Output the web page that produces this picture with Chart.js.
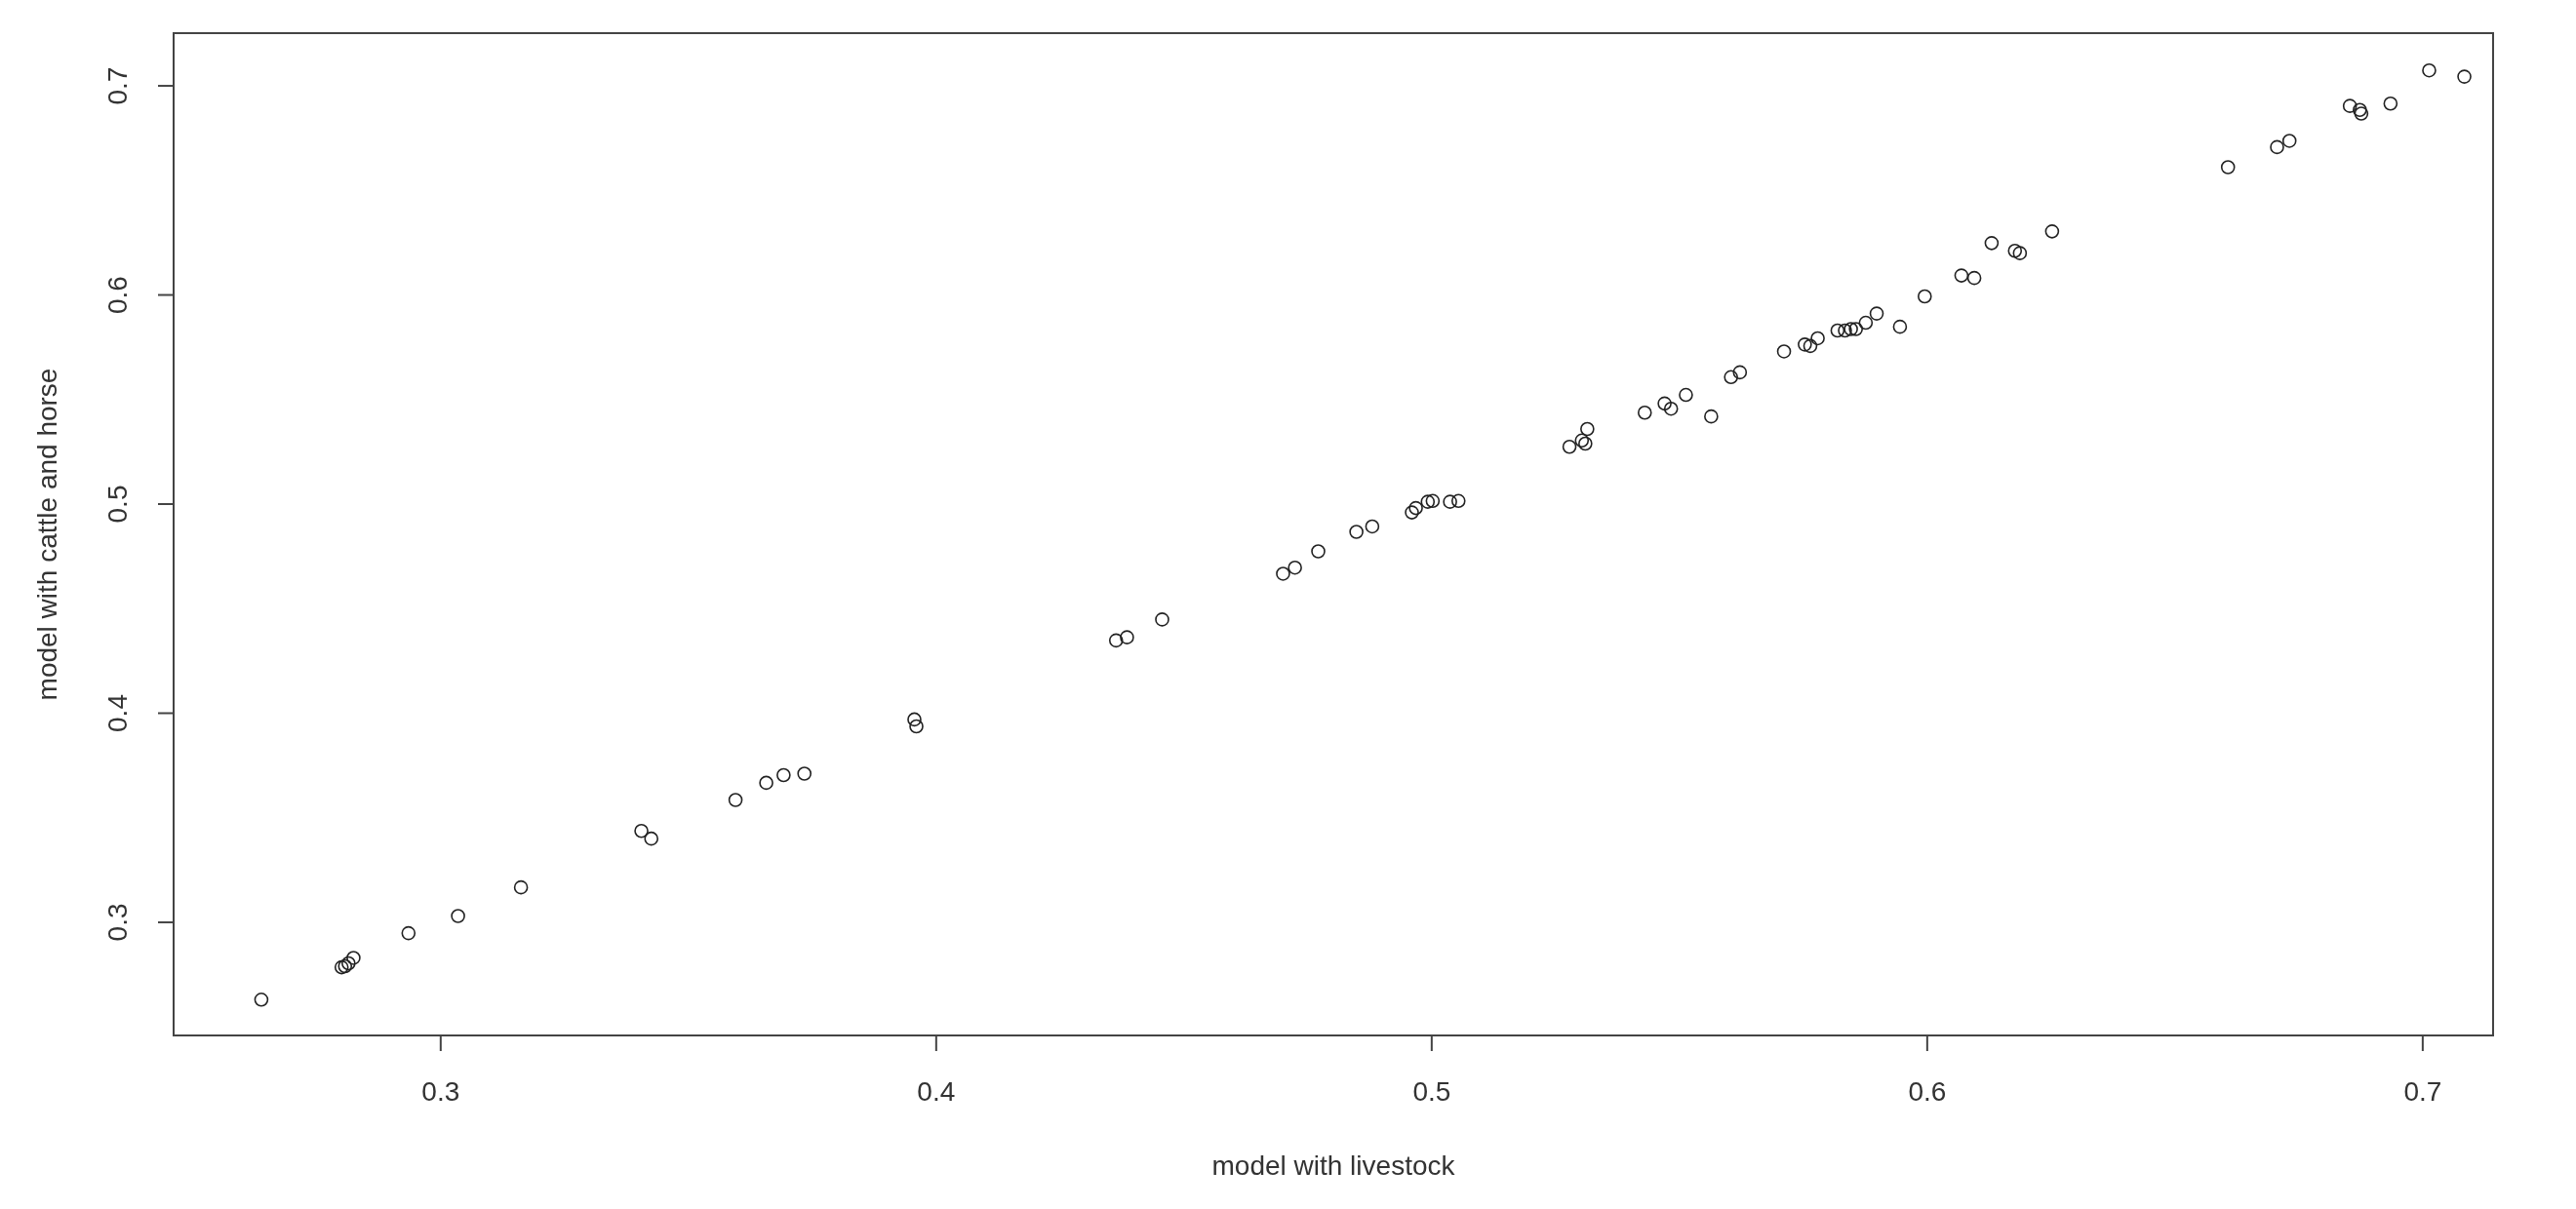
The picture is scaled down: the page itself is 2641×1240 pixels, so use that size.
<!DOCTYPE html>
<html>
<head>
<meta charset="utf-8">
<script src="https://cdn.jsdelivr.net/npm/chart.js@4.4.0/dist/chart.umd.min.js"></script>
<style>
  html, body { margin: 0; padding: 0; background: #fff; }
  #wrap { width: 2641px; height: 1240px; }
</style>
</head>
<body>
<div id="wrap"><canvas id="myChart"></canvas></div>
<script>
// model with livestock (x) vs model with cattle and horse (y)
const livestock = [
    0.2638, 0.2800, 0.2807, 0.2814, 0.2824, 0.2935, 0.3035, 0.3162, 0.3405, 0.3425,
    0.3595, 0.3657, 0.3692, 0.3734, 0.3956, 0.3960, 0.4363, 0.4385, 0.4456, 0.4700,
    0.4724, 0.4771, 0.4848, 0.4880, 0.4960, 0.4968, 0.4992, 0.5002, 0.5037, 0.5054,
    0.5278, 0.5303, 0.5310, 0.5314, 0.5430, 0.5470, 0.5483, 0.5513, 0.5564, 0.5604,
    0.5622, 0.5711, 0.5753, 0.5764, 0.5779, 0.5819, 0.5834, 0.5846, 0.5856, 0.5876,
    0.5898, 0.5945, 0.5995, 0.6069, 0.6095, 0.6130, 0.6177, 0.6187, 0.6252, 0.6607,
    0.6706, 0.6731, 0.6853, 0.6873, 0.6876, 0.6935, 0.7013, 0.7084
];
const cattleHorse = [
    0.2630, 0.2785, 0.2790, 0.2804, 0.2830, 0.2948, 0.3030, 0.3167, 0.3437, 0.3400,
    0.3585, 0.3667, 0.3704, 0.3711, 0.3970, 0.3937, 0.4348, 0.4363, 0.4448, 0.4667,
    0.4696, 0.4774, 0.4867, 0.4893, 0.4960, 0.4981, 0.5011, 0.5015, 0.5011, 0.5015,
    0.5274, 0.5304, 0.5289, 0.5359, 0.5437, 0.5481, 0.5456, 0.5522, 0.5419, 0.5607,
    0.5630, 0.5730, 0.5763, 0.5756, 0.5793, 0.5830, 0.5830, 0.5837, 0.5837, 0.5867,
    0.5911, 0.5848, 0.5993, 0.6093, 0.6081, 0.6248, 0.6211, 0.6200, 0.6304, 0.6611,
    0.6707, 0.6737, 0.6904, 0.6885, 0.6867, 0.6915, 0.7074, 0.7044
];
const xTicks = [0.3, 0.4, 0.5, 0.6, 0.7];
const yTicks = [0.3, 0.4, 0.5, 0.6, 0.7];
const xTitle = 'model with livestock';
const yTitle = 'model with cattle and horse';

const points = livestock.map((v, i) => ({ x: v, y: cattleHorse[i] }));

// R style box, ticks and labels
const rAxes = {
    id: 'rAxes',
    afterDraw(chart) {
        const ctx = chart.ctx;
        const a = chart.chartArea;
        const xs = chart.scales.x, ys = chart.scales.y;
        ctx.save();
        ctx.strokeStyle = '#444';
        ctx.lineWidth = 2;
        ctx.strokeRect(a.left, a.top, a.right - a.left, a.bottom - a.top);
        ctx.fillStyle = '#333';
        ctx.font = '28px "Liberation Sans", Arial, sans-serif';
        // x ticks
        ctx.textAlign = 'center';
        ctx.textBaseline = 'middle';
        xTicks.forEach(t => {
            const px = xs.getPixelForValue(t);
            ctx.beginPath();
            ctx.moveTo(px, a.bottom);
            ctx.lineTo(px, a.bottom + 16);
            ctx.stroke();
            ctx.fillText(t.toFixed(1), px, 1121);
        });
        ctx.fillText(xTitle, (a.left + a.right) / 2, 1197);
        // y ticks, rotated text
        yTicks.forEach(t => {
            const py = ys.getPixelForValue(t);
            ctx.beginPath();
            ctx.moveTo(a.left, py);
            ctx.lineTo(a.left - 16, py);
            ctx.stroke();
            ctx.save();
            ctx.translate(122, py);
            ctx.rotate(-Math.PI / 2);
            ctx.fillText(t.toFixed(1), 0, 0);
            ctx.restore();
        });
        ctx.save();
        ctx.translate(50, (a.top + a.bottom) / 2);
        ctx.rotate(-Math.PI / 2);
        ctx.fillText(yTitle, 0, 0);
        ctx.restore();
        ctx.restore();
    }
};

const ctx = document.querySelector('#myChart').getContext('2d');
const myChart = new Chart(ctx, {
    type: 'scatter',
    data: {
        datasets: [{
            data: points,
            pointStyle: 'circle',
            pointRadius: 6.5,
            pointBorderWidth: 1.6,
            borderColor: '#222',
            backgroundColor: 'rgba(0,0,0,0)'
        }]
    },
    options: {
        responsive: true,
        maintainAspectRatio: false,
        animation: false,
        layout: { padding: { top: 34, right: 85, left: 0, bottom: 0 } },
        plugins: { legend: { display: false }, tooltip: { enabled: false } },
        scales: {
            x: {
                type: 'linear', min: 0.2461, max: 0.7142,
                grid: { display: false }, border: { display: false },
                ticks: { display: false },
                afterFit(scale) { scale.height = 178; }
            },
            y: {
                type: 'linear', min: 0.2459, max: 0.7252,
                grid: { display: false }, border: { display: false },
                ticks: { display: false },
                afterFit(scale) { scale.width = 178; }
            }
        }
    },
    plugins: [rAxes]
});
</script>
</body>
</html>
